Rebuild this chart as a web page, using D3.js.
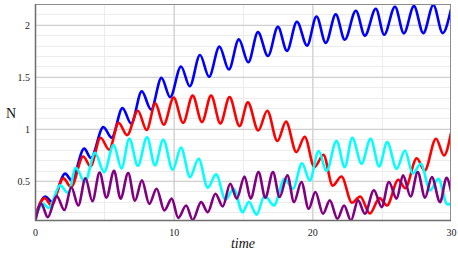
<!DOCTYPE html>
<html>
<head>
<meta charset="utf-8">
<script src="https://cdn.jsdelivr.net/npm/d3@7"></script>
<style>
  body { margin: 0; background: #fff; }
  svg { display: block; }
  text { font-family: "Liberation Serif", "DejaVu Serif", serif; }
</style>
</head>
<body>
<div id="chart"></div>
<script>
// values: [time, N] at start, peaks, troughs and end
const blueSeries = [
    [0, 0.15], [0.75, 0.35], [1.2, 0.30], [2.18, 0.57], [2.64, 0.505], [3.55, 0.81], [4.03, 0.72],
    [4.93, 1.017], [5.53, 0.915], [6.31, 1.2], [6.94, 1.05], [7.7, 1.36], [8.37, 1.185], [9.12, 1.49],
    [9.75, 1.305], [10.53, 1.6], [11.16, 1.41], [11.9, 1.71], [12.55, 1.5], [13.3, 1.79], [13.98, 1.57],
    [14.7, 1.86], [15.38, 1.64], [16.08, 1.93], [16.8, 1.7], [17.52, 1.98], [18.17, 1.75], [18.89, 2.03],
    [19.62, 1.8], [20.3, 2.08], [20.97, 1.826], [21.69, 2.1], [22.34, 1.857], [23.14, 2.135], [23.79, 1.896],
    [24.58, 2.154], [25.18, 1.905], [25.96, 2.173], [26.6, 1.918], [27.33, 2.18], [28.0, 1.92], [28.73, 2.19],
    [29.4, 1.92], [30, 2.15]
];
const redSeries = [
    [0, 0.15], [0.7, 0.335], [1.18, 0.265], [2.05, 0.525], [2.6, 0.44], [3.48, 0.735], [4.0, 0.64],
    [4.73, 0.915], [5.35, 0.8], [6.03, 1.058], [6.64, 0.94], [7.42, 1.175], [8.05, 0.99], [8.68, 1.245],
    [9.28, 1.04], [10.0, 1.3], [10.68, 1.058], [11.37, 1.32], [12.04, 1.065], [12.7, 1.32], [13.37, 1.053],
    [14.03, 1.305], [14.75, 1.027], [15.35, 1.255], [16.1, 0.985], [16.75, 1.175], [17.48, 0.883], [18.1, 1.07],
    [18.85, 0.777], [19.45, 0.925], [20.15, 0.633], [20.8, 0.75], [21.47, 0.455], [22.1, 0.543], [22.86, 0.29],
    [23.45, 0.35], [24.15, 0.187], [24.85, 0.335], [25.38, 0.264], [26.2, 0.512], [26.7, 0.43], [27.53, 0.718],
    [28.1, 0.6], [28.92, 0.906], [29.5, 0.745], [30, 0.96]
];
const cyanSeries = [
    [0, 0.15], [0.6, 0.28], [1.0, 0.24], [1.8, 0.457], [2.4, 0.385], [2.94, 0.625], [3.6, 0.49],
    [4.33, 0.77], [4.98, 0.585], [5.67, 0.845], [6.24, 0.62], [6.8, 0.906], [7.42, 0.645], [8.08, 0.92],
    [8.65, 0.65], [9.25, 0.896], [9.93, 0.607], [10.53, 0.82], [11.18, 0.537], [11.8, 0.713], [12.46, 0.435],
    [13.06, 0.563], [13.74, 0.32], [14.32, 0.425], [14.97, 0.2], [15.42, 0.3], [15.98, 0.175], [16.56, 0.36],
    [17.23, 0.264], [18.0, 0.52], [18.6, 0.425], [19.26, 0.67], [19.81, 0.505], [20.46, 0.787], [21.02, 0.594],
    [21.74, 0.883], [22.34, 0.633], [22.88, 0.915], [23.55, 0.665], [24.2, 0.906], [24.82, 0.64], [25.4, 0.873],
    [26.08, 0.617], [26.68, 0.793], [27.24, 0.57], [27.82, 0.665], [28.49, 0.41], [29.09, 0.52], [29.74, 0.274],
    [30, 0.28]
];
const purpleSeries = [
    [0, 0.1], [0.45, 0.28], [0.92, 0.152], [1.56, 0.355], [2.12, 0.22], [2.62, 0.44], [3.12, 0.264],
    [3.64, 0.525], [4.14, 0.306], [4.66, 0.58], [5.15, 0.34], [5.7, 0.597], [6.17, 0.33], [6.72, 0.575],
    [7.21, 0.31], [7.71, 0.505], [8.24, 0.28], [8.77, 0.425], [9.33, 0.216], [9.86, 0.33], [10.33, 0.145],
    [10.9, 0.264], [11.37, 0.125], [11.98, 0.296], [12.46, 0.2], [13.01, 0.377], [13.54, 0.255], [14.08, 0.473],
    [14.55, 0.33], [15.11, 0.543], [15.55, 0.33], [16.12, 0.585], [16.61, 0.34], [17.16, 0.585], [17.64, 0.345],
    [18.2, 0.553], [18.68, 0.296], [19.21, 0.49], [19.74, 0.232], [20.22, 0.393], [20.77, 0.185], [21.26, 0.313],
    [21.81, 0.137], [22.29, 0.264], [22.78, 0.12], [23.3, 0.313], [23.79, 0.185], [24.44, 0.41], [25.0, 0.248],
    [25.52, 0.49], [26.08, 0.33], [26.54, 0.553], [27.09, 0.35], [27.6, 0.585], [28.13, 0.34], [28.62, 0.537],
    [29.21, 0.296], [29.68, 0.53], [30, 0.4]
];

const timeTicks = [0, 10, 20, 30];
const timeMinorTicks = [5, 15, 25];
const nTicks = [0.5, 1, 1.5, 2];
const nMinorTicks = [0.2, 0.3, 0.4, 0.6, 0.7, 0.8, 0.9, 1.1, 1.2, 1.3, 1.4, 1.6, 1.7, 1.8, 1.9, 2.1];

const seriesList = [
    { values: blueSeries, color: "#0000ff" },
    { values: redSeries, color: "#ff0000" },
    { values: cyanSeries, color: "#00ffff" },
    { values: purpleSeries, color: "#800080" }
];

const width = 458;
const height = 253;
const margin = { top: 4, right: 7, bottom: 32, left: 35 };
const serif = "Liberation Serif, DejaVu Serif, serif";

const svg = d3.select("#chart").append("svg")
    .attr("width", width)
    .attr("height", height);

const xScale = d3.scaleLinear()
    .domain([0, 30])
    .range([margin.left, width - margin.right]);

const yScale = d3.scaleLinear()
    .domain([0.115, 2.2])
    .range([height - margin.bottom, margin.top]);

const plotW = width - margin.left - margin.right;
const plotH = height - margin.top - margin.bottom;

// minor grid
svg.append("g")
    .selectAll("line.hminor")
    .data(nMinorTicks)
    .enter()
    .append("line")
    .attr("x1", margin.left).attr("x2", width - margin.right)
    .attr("y1", d => Math.round(yScale(d)) + 0.5).attr("y2", d => Math.round(yScale(d)) + 0.5)
    .attr("stroke", "#ececec");

svg.append("g")
    .selectAll("line.vminor")
    .data(timeMinorTicks)
    .enter()
    .append("line")
    .attr("x1", d => Math.round(xScale(d)) + 0.5).attr("x2", d => Math.round(xScale(d)) + 0.5)
    .attr("y1", margin.top).attr("y2", height - margin.bottom)
    .attr("stroke", "#ececec");

// major grid
svg.append("g")
    .attr("transform", `translate(0, ${height - margin.bottom})`)
    .call(d3.axisBottom(xScale).tickValues(timeTicks.slice(1, -1)).tickSize(-plotH).tickFormat(""))
    .call(g => g.select(".domain").remove())
    .call(g => g.selectAll("line").attr("stroke", "#d4d4d4").attr("stroke-width", 1.5));

svg.append("g")
    .attr("transform", `translate(${margin.left}, 0)`)
    .call(d3.axisLeft(yScale).tickValues(nTicks).tickSize(-plotW).tickFormat(""))
    .call(g => g.select(".domain").remove())
    .call(g => g.selectAll("line").attr("stroke", "#cfcfcf").attr("stroke-width", 1.2));

// curves
svg.append("clipPath").attr("id", "plotClip")
    .append("rect")
    .attr("x", margin.left).attr("y", margin.top)
    .attr("width", plotW).attr("height", plotH);

const line = d3.line()
    .x(d => xScale(d[0]))
    .y(d => yScale(d[1]))
    .curve(d3.curveMonotoneX);

svg.append("g")
    .attr("clip-path", "url(#plotClip)")
    .selectAll("path")
    .data(seriesList)
    .enter()
    .append("path")
    .attr("d", d => line(d.values))
    .attr("fill", "none")
    .attr("stroke", d => d.color)
    .attr("stroke-width", 2.6)
    .attr("stroke-linejoin", "round");

// frame
svg.append("rect")
    .attr("x", margin.left + 0.5).attr("y", margin.top + 0.5)
    .attr("width", plotW - 1).attr("height", plotH - 1)
    .attr("fill", "none")
    .attr("stroke", "#8c8c8c")
    .attr("stroke-width", 1);

svg.append("path")
    .attr("d", `M${margin.left + 0.5},${margin.top} V${height - margin.bottom - 0.5} H${width - margin.right}`)
    .attr("fill", "none")
    .attr("stroke", "#6e6e6e")
    .attr("stroke-width", 1.5);

// tick labels
const xAxis = svg.append("g")
    .attr("transform", `translate(0, ${height - margin.bottom})`)
    .call(d3.axisBottom(xScale).tickValues(timeTicks).tickSize(0).tickPadding(8).tickFormat(d3.format("d")))
    .attr("font-family", serif);
xAxis.select(".domain").remove();
xAxis.selectAll("text").attr("font-size", 10).attr("fill", "#222")
    .style("font-family", serif);

const yAxis = svg.append("g")
    .attr("transform", `translate(${margin.left}, 0)`)
    .call(d3.axisLeft(yScale).tickValues(nTicks).tickSize(0).tickPadding(5).tickFormat(d => String(d)))
    .attr("font-family", serif);
yAxis.select(".domain").remove();
yAxis.selectAll("text").attr("font-size", 10).attr("fill", "#222")
    .style("font-family", serif);

// axis titles
svg.append("text")
    .attr("x", 243).attr("y", 248)
    .attr("text-anchor", "middle")
    .attr("font-size", 14)
    .attr("font-style", "italic")
    .attr("fill", "#111")
    .text("time");

svg.append("text")
    .attr("x", 11).attr("y", 118)
    .attr("text-anchor", "middle")
    .attr("font-size", 14)
    .attr("fill", "#111")
    .text("N");
</script>
</body>
</html>
